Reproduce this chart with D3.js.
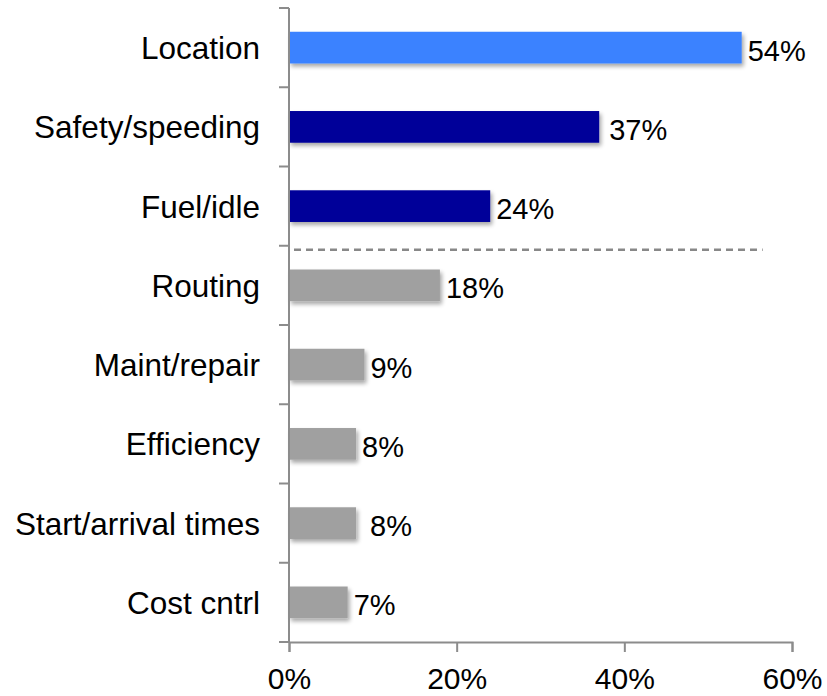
<!DOCTYPE html>
<html>
<head>
<meta charset="utf-8">
<script src="https://cdn.jsdelivr.net/npm/d3@7"></script>
<style>
  body { margin: 0; background: #fff; }
  text { font-family: "Liberation Sans", Arial, sans-serif; fill: #000; }
</style>
</head>
<body>
<svg id="chart" width="827" height="696"></svg>
<script>
// chart data
const categories = ['Location', 'Safety/speeding', 'Fuel/idle', 'Routing', 'Maint/repair', 'Efficiency', 'Start/arrival times', 'Cost cntrl']
const values = [54, 37, 24, 18, 9, 8, 8, 7]
const groups = ['top', 'main', 'main', 'other', 'other', 'other', 'other', 'other']
const xTicks = [0, 20, 40, 60]

const colors = { top: '#3b82ff', main: '#000099', other: '#a0a0a0' }
// the original deck nudged a couple of labels a bit further out
const labelNudge = { 'Safety/speeding': 4, 'Start/arrival times': 8 }

const margin = { top: 8, left: 289, right: 35, bottom: 54 }
const width = 827 - margin.left - margin.right
const height = 696 - margin.top - margin.bottom

const svg = d3.select('#chart')

// drop shadow like the office chart
const defs = svg.append('defs')
const shadow = defs.append('filter').attr('id', 'shadow')
  .attr('x', '-10%').attr('y', '-20%').attr('width', '130%').attr('height', '160%')
shadow.append('feGaussianBlur').attr('in', 'SourceAlpha').attr('stdDeviation', 2)
shadow.append('feOffset').attr('dx', 2).attr('dy', 3).attr('result', 'off')
shadow.append('feComponentTransfer').append('feFuncA').attr('type', 'linear').attr('slope', 0.35)
const merge = shadow.append('feMerge')
merge.append('feMergeNode')
merge.append('feMergeNode').attr('in', 'SourceGraphic')

const g = svg.append('g').attr('transform', `translate(${margin.left},${margin.top})`)

const x = d3.scaleLinear().domain([0, 60]).range([0, width])
const y = d3.scaleBand().domain(categories).range([0, height]).paddingInner(0.6).paddingOuter(0.3)
const band = height / categories.length

const rows = categories.map((c, i) => ({ name: c, value: values[i], group: groups[i] }))

// bars
g.selectAll('.bar').data(rows).enter().append('rect')
  .attr('class', 'bar')
  .attr('x', 0)
  .attr('y', d => y(d.name))
  .attr('width', d => x(d.value))
  .attr('height', y.bandwidth())
  .attr('fill', d => colors[d.group])
  .attr('filter', 'url(#shadow)')

// value labels
g.selectAll('.val').data(rows).enter().append('text')
  .attr('class', 'val')
  .attr('x', d => x(d.value) + 6 + (labelNudge[d.name] || 0))
  .attr('y', d => y(d.name) + y.bandwidth() / 2 + 13)
  .attr('font-size', 29)
  .text(d => d.value + '%')

// category labels
g.selectAll('.cat').data(rows).enter().append('text')
  .attr('class', 'cat')
  .attr('x', -29)
  .attr('y', d => y(d.name) + y.bandwidth() / 2 + 11.5)
  .attr('text-anchor', 'end')
  .attr('font-size', 31.5)
  .text(d => d.name)

// y axis line + band ticks
const axisColor = '#8c8c8c'
g.append('line')
  .attr('x1', 0).attr('x2', 0).attr('y1', 0).attr('y2', height)
  .attr('stroke', axisColor).attr('stroke-width', 2)
g.selectAll('.ytick').data(d3.range(categories.length + 1)).enter().append('line')
  .attr('x1', -10).attr('x2', 0)
  .attr('y1', i => i * band).attr('y2', i => i * band)
  .attr('stroke', axisColor).attr('stroke-width', 2)

// x axis
const xAxis = g.append('g').attr('transform', `translate(0,${height})`)
  .call(d3.axisBottom(x).tickValues(xTicks).tickFormat(d => d + '%').tickSizeOuter(0).tickSize(10))
xAxis.select('.domain').attr('stroke', axisColor).attr('stroke-width', 2)
xAxis.selectAll('.tick line').attr('stroke', axisColor).attr('stroke-width', 2)
xAxis.selectAll('.tick text')
  .attr('y', 47).attr('dy', null)
  .attr('font-size', 30)
  .attr('font-family', '"Liberation Sans", Arial, sans-serif')
  .attr('fill', '#000')

// dashed separator between the top three and the rest
g.append('line')
  .attr('x1', 5).attr('x2', x(56.5))
  .attr('y1', 3 * band + 4).attr('y2', 3 * band + 4)
  .attr('stroke', '#888').attr('stroke-width', 2.5)
  .attr('stroke-dasharray', '7,5')
</script>
</body>
</html>
